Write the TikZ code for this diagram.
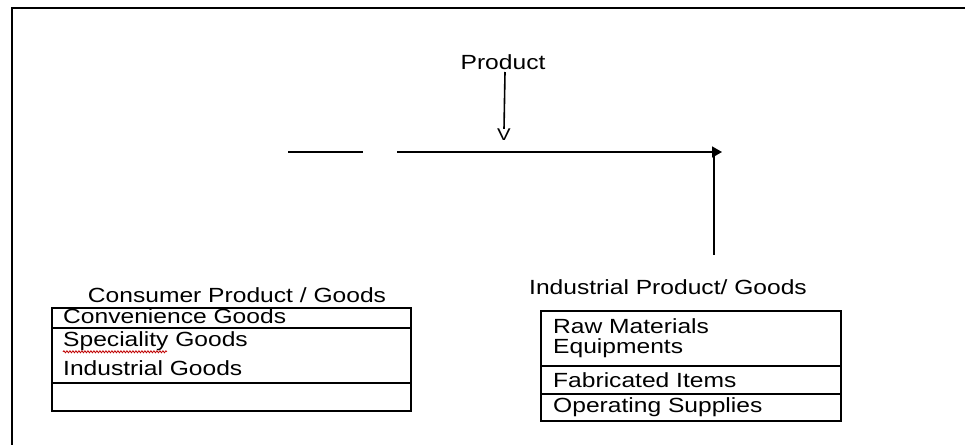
\documentclass[tikz,border=0pt]{standalone}
\usepackage{fontspec}
\setmainfont{Liberation Sans}[FakeStretch=1.2]
\usetikzlibrary{arrows.meta,decorations.pathmorphing}
\begin{document}
\begin{tikzpicture}[x=1pt,y=-1pt,
  lbl/.style={inner sep=0pt,font=\fontsize{20.5}{22}\selectfont},
  itemtxt/.style={lbl,anchor=west},
  rowbox/.style={draw,line width=1.8pt,inner sep=0pt,anchor=north west},
  conn/.style={line width=1.6pt},
  frameline/.style={line width=1.8pt}]
\useasboundingbox (0,0) rectangle (965,445);
\draw[frameline] (965,8) -- (12,8) -- (12,445);

% top
\node[lbl] (product) at (503,62) {Product};
\node[lbl,font=\fontsize{17}{19}\selectfont] (vmark) at (504,135) {V};
\draw[conn] (505,72) -- (vmark.north);
\coordinate (h1) at (288,152);
\coordinate (h2) at (363,152);
\coordinate (h3) at (397,152);
\coordinate (h4) at (722,152);
\coordinate (v1) at (714,152);
\coordinate (v2) at (714,255);
\draw[conn,line width=1.1pt] (h1) -- (h2);
\draw[conn,-{Triangle[length=10pt,width=11pt]}] (h3) -- (h4);
\draw[conn] (v1) -- (v2);

% left box
\node[lbl] (ctitle) at (237,295) {Consumer Product / Goods};
\node[rowbox,minimum width=359pt,minimum height=20pt] (c1) at (51,307) {};
\node[rowbox,minimum width=359pt,minimum height=55pt] (c2) at (51,327) {};
\node[rowbox,minimum width=359pt,minimum height=28pt] (c3) at (51,382) {};
\node[itemtxt] (conv) at (63,316) {Convenience Goods};
\node[itemtxt] (spec) at (63,341) {Speciality Goods};
\node[itemtxt] (indg) at (63,368) {Industrial Goods};
\draw[red!75!black,line width=0.8pt,decorate,decoration={snake,amplitude=1pt,segment length=3pt}]
  ([yshift=-1pt]spec.south west) -- ([xshift=104pt,yshift=-1pt]spec.south west);

% right box
\node[lbl] (ititle) at (668,287) {Industrial Product/ Goods};
\node[rowbox,minimum width=300pt,minimum height=55pt] (i1) at (540,310) {};
\node[rowbox,minimum width=300pt,minimum height=28pt] (i2) at (540,365) {};
\node[rowbox,minimum width=300pt,minimum height=27pt] (i3) at (540,393) {};
\node[itemtxt] (raw) at (553,326) {Raw Materials};
\node[itemtxt] (equ) at (553,348) {Equipments};
\node[itemtxt] (fab) at (553,380) {Fabricated Items};
\node[itemtxt] (ops) at (553,407) {Operating Supplies};
\end{tikzpicture}
\end{document}
